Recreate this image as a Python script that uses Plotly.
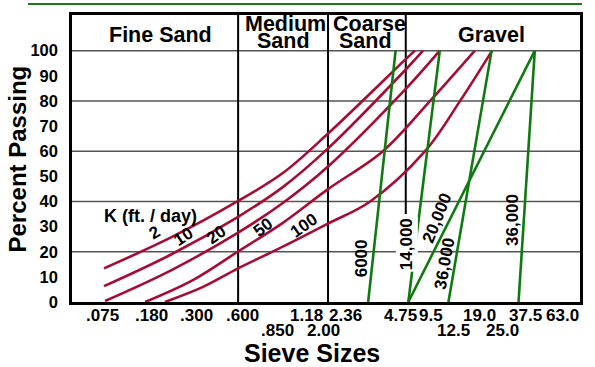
import plotly.graph_objects as go

# ---------------- data ----------------
# x values are positions on the chart's (hand-drawn, non-uniform) sieve-size scale, 0..100
# y values are percent passing
K_LABELS = ["2", "10", "20", "50", "100"]
K2_X = [6.3, 19.5, 32.7, 41.5, 50.4, 65.7, 67.5]
K2_Y = [13.4, 25.7, 40.2, 51.3, 67.0, 96.6, 100]
K10_X = [6.3, 19.5, 32.7, 41.5, 50.4, 65.7, 69.1]
K10_Y = [6.3, 18.9, 33.9, 45.7, 61.1, 92.5, 100]
K20_X = [6.5, 19.5, 32.7, 41.5, 50.4, 65.7, 72.4]
K20_Y = [0.4, 12.6, 27.6, 39.4, 53.9, 84.8, 100]
K50_X = [14.4, 23.8, 32.7, 41.5, 50.4, 61.2, 70.5, 79.3]
K50_Y = [0, 8.7, 20.1, 31.5, 44.9, 60.0, 80.0, 100]
K100_X = [18.3, 25.8, 32.7, 41.5, 50.4, 58.7, 69.5, 76.4, 82.7]
K100_Y = [0, 6.0, 13.4, 22.0, 31.2, 40.0, 60.0, 80.0, 100]

# green lines (0% -> 100%)
G_X0 = [58.3, 66.2, 66.2, 74.1, 87.9]
G_X1 = [63.7, 72.4, 91.1, 82.6, 91.1]
G_Y = [0, 100]

# green labels
G_LABELS = ["6000", "14,000", "20,000", "36,000", "36,000"]
G_LAB_X = [57.0, 66.0, 71.8, 73.4, 86.6]
G_LAB_Y = [17.2, 23.1, 33.3, 15.2, 32.6]
G_LAB_ANG = [-90, -90, -68, -80, -90]

# K labels
K_LAB_X = [16.3, 22.0, 28.5, 37.6, 45.7]
K_LAB_Y = [27.6, 26.0, 26.8, 29.5, 30.3]
K_LAB_ANG = [-30, -33, -35, -38, -35]

# sieve sizes (tick labels) and positions on the scale
SIEVE_ROW1 = [".075", ".180", ".300", ".600", "1.18", "2.36", "4.75", "9.5", "19.0", "37.5", "63.0"]
SIEVE_ROW1_POS = [6.1, 15.6, 24.6, 33.5, 46.1, 53.9, 64.6, 70.7, 80.3, 89.2, 96.5]
SIEVE_ROW2 = [".850", "2.00", "12.5", "25.0"]
SIEVE_ROW2_POS = [40.4, 49.6, 75.0, 84.8]

# zone boundaries (.600, 2.00, 4.75)
ZONE_BOUNDS = [32.7, 50.4, 65.7]
ZONE_TEXT = ["Fine Sand", "Medium", "Sand", "Coarse", "Sand", "Gravel"]
ZONE_TX = [17.5, 42.1, 41.7, 58.5, 57.7, 82.5]
ZONE_TY = [106.1, 110.4, 103.7, 110.4, 103.7, 106.1]
Y_TICKS = list(range(0, 101, 10))
GRID_Y = [20, 40, 60, 80, 100]

RED = "#a50d35"
GREEN = "#0f7a0f"
FONT = "Liberation Sans, Arial, sans-serif"
YTOP = 290 / 2.54

fig = go.Figure()

for xs, ys in [(K2_X, K2_Y), (K10_X, K10_Y), (K20_X, K20_Y), (K50_X, K50_Y), (K100_X, K100_Y)]:
    fig.add_trace(go.Scatter(x=xs, y=ys, mode="lines",
                             line=dict(color=RED, width=2.6, shape="spline", smoothing=1.0),
                             showlegend=False, hoverinfo="skip"))

for x0, x1 in zip(G_X0, G_X1):
    fig.add_trace(go.Scatter(x=[x0, x1], y=G_Y, mode="lines",
                             line=dict(color=GREEN, width=2.6),
                             showlegend=False, hoverinfo="skip"))

shapes = []
for gy in GRID_Y:
    shapes.append(dict(type="line", xref="paper", x0=0, x1=1, yref="y", y0=gy, y1=gy,
                       line=dict(color="#555555", width=1.5), layer="below"))
for i, b in enumerate(ZONE_BOUNDS):
    y0 = 35 if i == 2 else 0
    shapes.append(dict(type="line", xref="x", x0=b, x1=b, yref="y", y0=y0, y1=YTOP,
                       line=dict(color="black", width=2), layer="below"))
# decorative green rule at very top
shapes.append(dict(type="line", xref="paper", x0=-0.0866, x1=1.004, yref="paper",
                   y0=1.0385, y1=1.0385, line=dict(color="#1a7a1a", width=2)))

ann = []
bold = dict(family=FONT, color="black", weight="bold")
C = dict(xanchor="center", yanchor="middle", showarrow=False)
for t, zx, zy in zip(ZONE_TEXT, ZONE_TX, ZONE_TY):
    ann.append(dict(text=t, x=zx, y=zy, xref="x", yref="y", font=dict(size=21.5, **bold), **C))
ann.append(dict(text="K (ft. / day)", x=15.4, y=34.3, xref="x", yref="y",
                font=dict(size=18, **bold), **C))
for t, lx, ly, a in zip(K_LABELS, K_LAB_X, K_LAB_Y, K_LAB_ANG):
    ann.append(dict(text=t, x=lx, y=ly, xref="x", yref="y", textangle=a,
                    font=dict(size=17, **bold), **C))
for t, lx, ly, a in zip(G_LABELS, G_LAB_X, G_LAB_Y, G_LAB_ANG):
    ann.append(dict(text=t, x=lx, y=ly, xref="x", yref="y", textangle=a,
                    font=dict(size=17, **bold), bgcolor="white" if t == "14,000" else None, **C))
for t, p in zip(SIEVE_ROW1, SIEVE_ROW1_POS):
    ann.append(dict(text=t, x=p, y=-0.047, xref="x", yref="paper",
                    font=dict(size=17, **bold), **C))
for t, p in zip(SIEVE_ROW2, SIEVE_ROW2_POS):
    ann.append(dict(text=t, x=p, y=-0.101, xref="x", yref="paper",
                    font=dict(size=17, **bold), **C))
ann.append(dict(text="Sieve Sizes", x=0.472, y=-0.179, xref="paper", yref="paper",
                font=dict(size=25, **bold), **C))
ann.append(dict(text="Percent Passing", x=-0.1063, y=0.5, xref="paper", yref="paper",
                textangle=-90, font=dict(size=24, **bold), **C))

fig.update_layout(
    width=595, height=367,
    margin=dict(l=72, r=15, t=12, b=65),
    paper_bgcolor="white", plot_bgcolor="white",
    font=dict(family=FONT, color="black"),
    shapes=shapes, annotations=ann,
    xaxis=dict(range=[0, 100], showgrid=False, zeroline=False, showticklabels=False,
               ticks="", showline=True, mirror=True, linecolor="black", linewidth=2.5),
    yaxis=dict(range=[0, YTOP], showgrid=False, zeroline=False, tickvals=Y_TICKS,
               ticks="", ticklabelstandoff=8,
               tickfont=dict(size=16.5, family=FONT, color="black", weight="bold"),
               showline=True, mirror=True, linecolor="black", linewidth=2.5),
)

fig.write_html("out.html", config={"displayModeBar": False},
               post_script="document.body.style.margin='0';")
